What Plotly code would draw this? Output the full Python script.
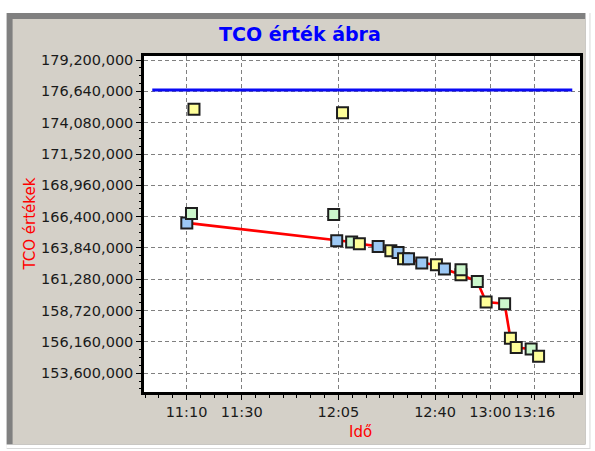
import plotly.graph_objects as go
import numpy as np

# ---------------- data ----------------
DAY = "2024-01-01 "
point_times = ["11:10:06", "11:11:48", "11:12:42", "12:03:18", "12:04:24", "12:06:30",
               "12:09:48", "12:12:36", "12:19:24", "12:24:00", "12:26:36", "12:28:36",
               "12:30:24", "12:35:12", "12:40:30", "12:43:24", "12:49:24", "12:49:24",
               "12:55:18", "12:58:30", "13:05:12", "13:07:18", "13:09:24", "13:14:48",
               "13:17:30"]
point_values = [165890000, 166650000, 175170000, 166570000, 164440000, 174900000,
                164330000, 164190000, 163970000, 163620000, 163480000, 162960000,
                162960000, 162610000, 162470000, 162120000, 161650000, 162060000,
                161100000, 159420000, 159280000, 156470000, 155700000, 155590000,
                155000000]
point_kinds = ["blue", "green", "yellow", "green", "blue", "yellow",
               "green", "yellow", "blue", "yellow", "blue", "yellow",
               "blue", "blue", "yellow", "blue", "yellow", "green",
               "green", "yellow", "green", "yellow", "yellow", "green",
               "yellow"]

limit_times = ["10:57:36", "13:29:42"]
limit_value = 176760000

x_tick_times = ["11:10", "11:30", "12:05", "12:40", "13:00", "13:16"]
x_tick_labels = ["11:10", "11:30", "12:05", "12:40", "13:00", "13:16"]
y_ticks = [153600000, 156160000, 158720000, 161280000, 163840000, 166400000,
           168960000, 171520000, 174080000, 176640000, 179200000]

x_range = ["10:54:36", "13:32:30"]
y_range = [152070000, 179530000]

title_text = "TCO érték ábra"
x_title = "Idő"
y_title = "TCO értékek"

kind_colors = {"blue": "#9cc8f4", "green": "#ccf7cc", "yellow": "#ffff99"}

# ---------------- derived ----------------
px_times = [DAY + t for t in point_times]
vals = np.array(point_values, dtype=float)
# best-so-far line: points that reach a new minimum
run_min = np.minimum.accumulate(vals)
prev_min = np.concatenate([[np.inf], run_min[:-1]])
best_mask = vals <= prev_min
best_x = [px_times[i] for i in range(len(vals)) if best_mask[i]]
best_y = [point_values[i] for i in range(len(vals)) if best_mask[i]]

# layout geometry helpers (pixels -> paper coords)
L, R, T, B = 144, 582, 56, 392
W, H = R - L, B - T
def pxx(x):
    return (x - L) / W
def pxy(y):
    return (B - y) / H

FONT = "DejaVu Sans"

fig = go.Figure()
fig.add_trace(go.Scatter(
    x=[DAY + t for t in limit_times], y=[limit_value, limit_value],
    mode="lines", line=dict(color="#0a0af5", width=3), hoverinfo="skip"))
fig.add_trace(go.Scatter(
    x=best_x, y=best_y, mode="lines",
    line=dict(color="#ff0000", width=2.6), hoverinfo="skip"))
fig.add_trace(go.Scatter(
    x=px_times, y=point_values, mode="markers",
    marker=dict(symbol="square", size=11,
                color=[kind_colors[k] for k in point_kinds],
                line=dict(color="#1e1e1e", width=2))))

shapes = [
    dict(type="rect", xref="paper", yref="paper", x0=pxx(6), x1=pxx(592.5),
         y0=pxy(449), y1=pxy(13), fillcolor="#d8d8d8", line=dict(width=0), layer="below"),
    dict(type="rect", xref="paper", yref="paper", x0=pxx(6), x1=pxx(591.5),
         y0=pxy(448), y1=pxy(13), fillcolor="#ffffff", line=dict(width=0), layer="below"),
    dict(type="rect", xref="paper", yref="paper", x0=pxx(6), x1=pxx(587.5),
         y0=pxy(444.5), y1=pxy(13), fillcolor="#808080", line=dict(width=0), layer="below"),
    dict(type="rect", xref="paper", yref="paper", x0=pxx(12), x1=pxx(587.5),
         y0=pxy(444.5), y1=pxy(19), fillcolor="#d4d0c8", line=dict(width=0), layer="below"),
    dict(type="rect", xref="paper", yref="paper", x0=0, x1=1, y0=0, y1=1,
         fillcolor="#ffffff", line=dict(width=0), layer="below"),
]

annotations = [
    dict(text="<b>" + title_text + "</b>", xref="paper", yref="paper",
         x=pxx(301), y=pxy(34), xanchor="center", yanchor="middle", showarrow=False,
         font=dict(family=FONT, size=19, color="#0000ff")),
    dict(text=x_title, xref="paper", yref="paper",
         x=pxx(361), y=pxy(432), xanchor="center", yanchor="middle", showarrow=False,
         font=dict(family=FONT, size=15, color="#ff0000")),
    dict(text=y_title, xref="paper", yref="paper", textangle=-90,
         x=pxx(29), y=pxy(224), xanchor="center", yanchor="middle", showarrow=False,
         font=dict(family=FONT, size=15, color="#ff0000")),
]

fig.update_layout(
    width=595, height=451,
    margin=dict(l=L, r=595 - R, t=T, b=451 - B, pad=0),
    paper_bgcolor="#ffffff", plot_bgcolor="#ffffff",
    showlegend=False, shapes=shapes, annotations=annotations,
    font=dict(family=FONT, size=14.5, color="#1a1a1a"),
)
fig.update_xaxes(
    type="date", range=[DAY + x_range[0], DAY + x_range[1]],
    tickmode="array", tickvals=[DAY + t for t in x_tick_times], ticktext=x_tick_labels,
    showgrid=True, gridcolor="#808080", griddash="4px,3px", gridwidth=1,
    showline=True, linecolor="#000000", linewidth=2.5, mirror=True,
    ticks="outside", ticklen=5, tickcolor="#000000", tickwidth=1,
    tickfont=dict(family=FONT, size=14.5, color="#1a1a1a"),
    minor=dict(dtick=300000, tick0=DAY + "11:10", ticks="outside", ticklen=3,
               tickcolor="#000000", showgrid=False),
    zeroline=False, fixedrange=True,
)
fig.update_yaxes(
    range=y_range, tickmode="array", tickvals=y_ticks, tickformat=",d",
    showgrid=True, gridcolor="#808080", griddash="4px,3px", gridwidth=1,
    showline=True, linecolor="#000000", linewidth=2.5, mirror=True,
    ticks="outside", ticklen=5, tickcolor="#000000", tickwidth=1,
    tickfont=dict(family=FONT, size=14.5, color="#1a1a1a"),
    minor=dict(dtick=640000, tick0=153600000, ticks="outside", ticklen=2,
               tickcolor="#000000", showgrid=False),
    zeroline=False, fixedrange=True,
)

fig.write_html(
    "out.html",
    config={"displayModeBar": False},
    post_script="document.body.style.margin='0';document.body.style.overflow='hidden';",
)
